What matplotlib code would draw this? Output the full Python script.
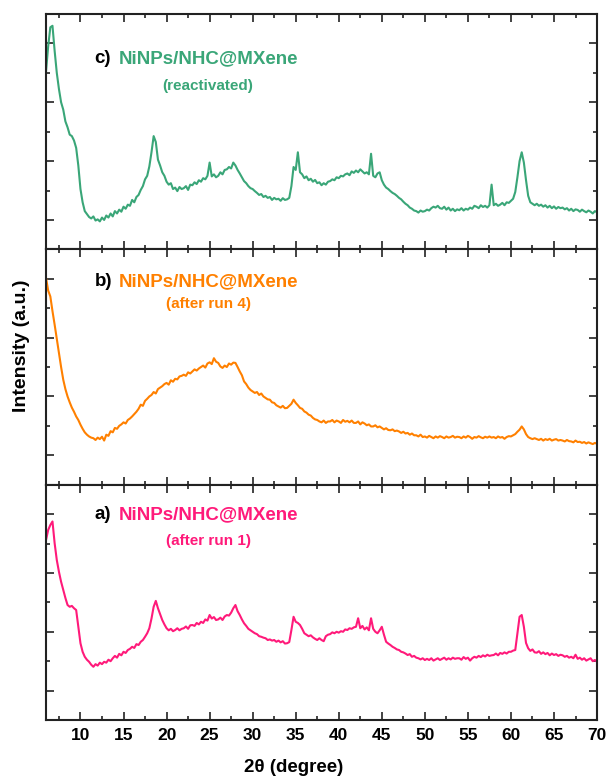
import numpy as np
import matplotlib
matplotlib.use("Agg")
import matplotlib.pyplot as plt
from matplotlib.ticker import MultipleLocator

plt.rcParams['font.family'] = ['Liberation Sans', 'DejaVu Sans']
plt.rcParams['font.weight'] = 'bold'

# 2theta scan, 0.25 degree step
two_theta = np.arange(6.0, 70.001, 0.25)

# c) reactivated
int_c = [
    6.05, 6.9, 7.55, 7.6, 6.75, 6.0, 5.45, 5.0, 4.75, 4.35, 4.15, 3.9, 3.85, 3.7, 3.45, 2.85,
    2.05, 1.6, 1.3, 1.2, 1.1, 1.05, 1.12, 0.98, 1.02, 0.95, 1.08, 1.0, 1.15, 1.08, 1.22, 1.12,
    1.3, 1.22, 1.35, 1.28, 1.45, 1.38, 1.52, 1.48, 1.68, 1.6, 1.78, 1.85, 2.02, 2.15, 2.38, 2.5,
    2.82, 3.3, 3.85, 3.65, 3.05, 2.85, 2.62, 2.5, 2.3, 2.2, 2.25, 2.05, 2.1, 1.98, 2.12, 2.05,
    2.08, 2.15, 2.02, 2.2, 2.18, 2.28, 2.22, 2.35, 2.3, 2.42, 2.38, 2.5, 2.95, 2.48, 2.55, 2.45,
    2.5, 2.62, 2.55, 2.7, 2.72, 2.8, 2.75, 2.95, 2.85, 2.7, 2.58, 2.45, 2.32, 2.25, 2.15, 2.08,
    2.05, 1.98, 1.92, 1.85, 1.88, 1.78, 1.82, 1.75, 1.78, 1.68, 1.75, 1.7, 1.72, 1.65, 1.74, 1.68,
    1.7, 1.75, 2.15, 2.8, 2.7, 3.3, 2.62, 2.55, 2.42, 2.48, 2.35, 2.4, 2.3, 2.36, 2.25, 2.28,
    2.18, 2.25, 2.2, 2.3, 2.32, 2.38, 2.35, 2.45, 2.42, 2.5, 2.48, 2.55, 2.58, 2.52, 2.65, 2.6,
    2.68, 2.62, 2.72, 2.65, 2.58, 2.62, 2.55, 3.25, 2.5, 2.45, 2.58, 2.62, 2.35, 2.2, 2.1, 2.05,
    1.98, 1.92, 1.88, 1.82, 1.75, 1.7, 1.62, 1.55, 1.5, 1.42, 1.38, 1.32, 1.3, 1.25, 1.32, 1.28,
    1.3, 1.35, 1.32, 1.4, 1.45, 1.42, 1.48, 1.4, 1.38, 1.45, 1.35, 1.42, 1.32, 1.38, 1.3, 1.36,
    1.33, 1.4, 1.32, 1.38, 1.35, 1.42, 1.38, 1.48, 1.45, 1.4, 1.5, 1.44, 1.48, 1.42, 1.5, 2.2,
    1.5, 1.55, 1.48, 1.52, 1.58, 1.5, 1.6, 1.58, 1.65, 1.72, 1.95, 2.45, 3.0, 3.3, 2.95, 2.35,
    1.82, 1.6, 1.55, 1.5, 1.55, 1.48, 1.52, 1.45, 1.5, 1.42, 1.48, 1.4, 1.46, 1.38, 1.44, 1.4,
    1.42, 1.36, 1.4, 1.32, 1.38, 1.3, 1.36, 1.34, 1.28, 1.35, 1.3, 1.26, 1.32, 1.28, 1.22, 1.3,
    1.26,
]

# b) after run 4
int_b = [
    7.03, 6.6, 6.4, 5.9, 5.44, 4.95, 4.48, 4.0, 3.57, 3.25, 3.0, 2.8, 2.62, 2.48, 2.32, 2.2,
    2.04, 1.9, 1.78, 1.7, 1.64, 1.6, 1.58, 1.52, 1.6, 1.55, 1.63, 1.5, 1.7, 1.66, 1.82, 1.78,
    1.93, 1.9, 2.0, 2.05, 2.12, 2.08, 2.2, 2.25, 2.32, 2.4, 2.48, 2.58, 2.72, 2.68, 2.85, 2.92,
    3.0, 3.05, 3.15, 3.1, 3.25, 3.3, 3.35, 3.42, 3.46, 3.4, 3.55, 3.5, 3.6, 3.58, 3.68, 3.7,
    3.74, 3.7, 3.82, 3.78, 3.85, 3.92, 3.88, 3.95, 4.0, 4.05, 3.98, 4.12, 4.16, 4.1, 4.3, 4.18,
    4.14, 4.02, 3.97, 4.05, 4.0, 4.12, 4.08, 4.15, 4.14, 4.0, 3.85, 3.72, 3.51, 3.42, 3.3, 3.22,
    3.17, 3.12, 3.15, 3.05, 3.1, 3.0, 2.95, 2.9, 2.89, 2.8, 2.78, 2.7, 2.66, 2.62, 2.68, 2.6,
    2.61, 2.68, 2.75, 2.89, 2.78, 2.7, 2.61, 2.58, 2.49, 2.45, 2.38, 2.35, 2.27, 2.22, 2.2, 2.15,
    2.12, 2.18, 2.1, 2.15, 2.15, 2.2, 2.12, 2.18, 2.15, 2.1, 2.2, 2.14, 2.17, 2.12, 2.18, 2.1,
    2.1, 2.15, 2.05, 2.12, 2.08, 2.02, 2.05, 1.98, 1.98, 2.02, 1.95, 1.98, 1.93, 1.88, 1.92, 1.86,
    1.85, 1.88, 1.82, 1.84, 1.81, 1.76, 1.8, 1.74, 1.76, 1.7, 1.74, 1.68, 1.68, 1.64, 1.7, 1.62,
    1.64, 1.6, 1.66, 1.62, 1.58, 1.64, 1.6, 1.65, 1.62, 1.58, 1.64, 1.6, 1.62, 1.66, 1.6, 1.63,
    1.62, 1.58, 1.64, 1.6, 1.66, 1.62, 1.56, 1.62, 1.6, 1.65, 1.61, 1.58, 1.63, 1.6, 1.64, 1.6,
    1.62, 1.58, 1.64, 1.6, 1.62, 1.56, 1.62, 1.65, 1.64, 1.68, 1.72, 1.8, 1.87, 1.98, 1.88, 1.72,
    1.62, 1.58, 1.55, 1.58, 1.55, 1.52, 1.56, 1.5, 1.55, 1.52, 1.56, 1.5, 1.53, 1.55, 1.5, 1.52,
    1.5, 1.47, 1.52, 1.48, 1.47, 1.44, 1.5, 1.45, 1.46, 1.42, 1.45, 1.4, 1.44, 1.41, 1.38, 1.42,
    1.39,
]

# a) after run 1
int_a = [
    6.12, 6.46, 6.63, 6.75, 6.01, 5.44, 5.04, 4.7, 4.42, 4.15, 3.91, 3.85, 3.88, 3.8, 3.74, 3.17,
    2.61, 2.32, 2.15, 2.05, 1.98, 1.88, 1.81, 1.9, 1.85, 1.95, 1.9, 1.98, 1.95, 2.05, 2.0, 2.1,
    2.18, 2.12, 2.25, 2.2, 2.32, 2.28, 2.38, 2.42, 2.49, 2.45, 2.58, 2.55, 2.66, 2.72, 2.83, 2.95,
    3.12, 3.45, 3.85, 4.05, 3.8, 3.6, 3.4, 3.25, 3.12, 3.05, 3.1, 3.02, 3.06, 3.12, 3.05, 3.1,
    3.12, 3.18, 3.1, 3.22, 3.23, 3.2, 3.3, 3.25, 3.34, 3.3, 3.42, 3.38, 3.57, 3.45, 3.5, 3.4,
    3.42, 3.48, 3.4, 3.52, 3.57, 3.55, 3.65, 3.8, 3.91, 3.7, 3.57, 3.42, 3.29, 3.2, 3.1, 3.05,
    3.0, 2.95, 2.92, 2.85, 2.83, 2.8, 2.78, 2.72, 2.74, 2.7, 2.72, 2.66, 2.7, 2.64, 2.68, 2.6,
    2.61, 2.65, 3.06, 3.51, 3.34, 3.3, 3.23, 3.1, 2.95, 2.9, 2.85, 2.88, 2.81, 2.76, 2.72, 2.78,
    2.72, 2.68, 2.85, 2.9, 2.92, 2.98, 2.95, 3.0, 2.97, 3.02, 3.0, 3.08, 3.06, 3.12, 3.1, 3.15,
    3.17, 3.46, 3.12, 3.2, 3.08, 3.15, 3.05, 3.46, 3.1, 3.0, 2.95, 3.05, 3.17, 2.9, 2.66, 2.6,
    2.55, 2.49, 2.45, 2.4, 2.38, 2.32, 2.3, 2.26, 2.21, 2.24, 2.15, 2.18, 2.12, 2.1, 2.06, 2.1,
    2.04, 2.08, 2.04, 2.1, 2.02, 2.06, 2.1, 2.04, 2.08, 2.12, 2.05, 2.1, 2.06, 2.12, 2.08, 2.1,
    2.1, 2.05, 2.14, 2.08, 2.12, 2.02, 2.1, 2.15, 2.12, 2.18, 2.14, 2.2, 2.16, 2.22, 2.18, 2.2,
    2.21, 2.26, 2.2, 2.28, 2.25, 2.3, 2.26, 2.32, 2.32, 2.36, 2.38, 2.95, 3.51, 3.57, 3.17, 2.62,
    2.44, 2.35, 2.4, 2.3, 2.29, 2.34, 2.25, 2.3, 2.24, 2.28, 2.2, 2.26, 2.21, 2.24, 2.18, 2.22,
    2.2, 2.15, 2.18, 2.12, 2.15, 2.1, 2.22, 2.08, 2.12, 2.05, 2.1, 2.02, 2.06, 2.1, 2.0, 2.04,
    1.98,
]

labels = ['c)', 'b)', 'a)']
sample = 'NiNPs/NHC@MXene'
notes = ['(reactivated)', '(after run 4)', '(after run 1)']
colors = ['#3aa678', '#ff8000', '#ff1a7a']
series = [int_c, int_b, int_a]
text_y = [(0.809, 0.694), (0.864, 0.766), (0.872, 0.762)]

fig = plt.figure(figsize=(6.08, 7.79), dpi=100)
gs = fig.add_gridspec(3, 1, left=0.0757, right=0.982, top=0.982, bottom=0.0757, hspace=0)

for i in range(3):
    ax = fig.add_subplot(gs[i])
    ax.plot(two_theta, series[i], color=colors[i], lw=1.5)
    ax.set_xlim(6, 70)
    ax.set_ylim(0, 8)
    ax.xaxis.set_major_locator(MultipleLocator(5))
    ax.xaxis.set_minor_locator(MultipleLocator(2.5))
    ax.yaxis.set_major_locator(MultipleLocator(2, offset=1))
    ax.yaxis.set_minor_locator(MultipleLocator(1))
    ax.tick_params(which='both', direction='in', top=True, right=True, width=1.2, color='#222222')
    ax.tick_params(which='major', length=6)
    ax.tick_params(which='minor', length=3)
    ax.tick_params(axis='y', labelleft=False)
    ax.tick_params(axis='x', labelsize=12.5, pad=6)
    if i < 2:
        ax.tick_params(axis='x', labelbottom=False)
    for s in ax.spines.values():
        s.set_linewidth(1.5)
        s.set_color('#222222')
    ty, sy = text_y[i]
    ax.text(0.088, ty, labels[i], transform=ax.transAxes, fontsize=13.5,
            fontweight='bold', color='black', va='center', ha='left')
    ax.text(0.132, ty, sample, transform=ax.transAxes, fontsize=13.5,
            fontweight='bold', color=colors[i], va='center', ha='left')
    ax.text(0.294, sy, notes[i], transform=ax.transAxes, fontsize=11,
            fontweight='bold', color=colors[i], va='center', ha='center')

fig.text(0.036, 1 - 346 / 779, 'Intensity (a.u.)', rotation=90, fontsize=14,
         fontweight='bold', va='center', ha='center')
fig.text(294 / 608, 1 - 768 / 779, '2θ (degree)', fontsize=13.5,
         fontweight='bold', va='center', ha='center')

fig.savefig('out.png', dpi=100)
